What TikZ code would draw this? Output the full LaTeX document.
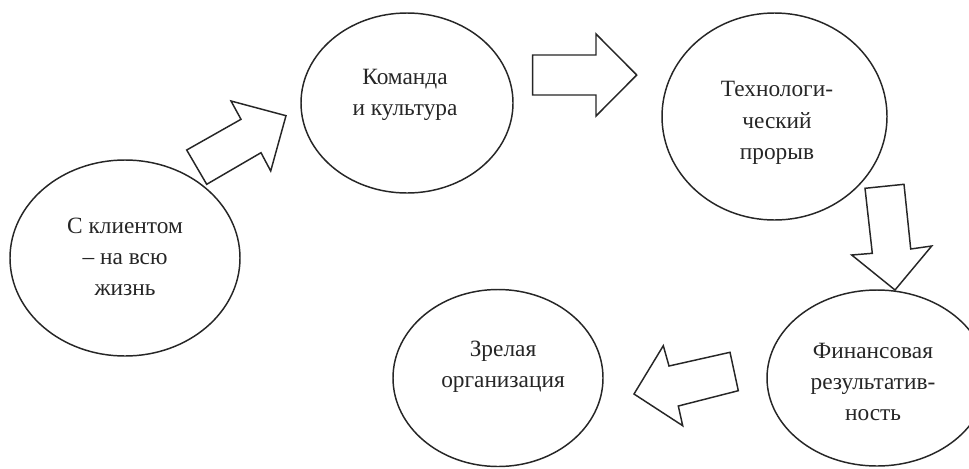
\documentclass[tikz,border=0pt]{standalone}
\usepackage{fontspec}
\setmainfont{Liberation Serif}
\usetikzlibrary{shapes.geometric}
\begin{document}
\begin{tikzpicture}[x=0.75pt,y=-0.75pt,
  oval/.style={draw=black!85,line width=1.1pt,ellipse,inner sep=0pt},
  lbl/.style={align=center,font=\fontsize{17.5}{23.4}\selectfont,text=black!85,inner sep=0pt},
  blockarrow/.style={draw=black!85,line width=1.1pt,line join=miter,fill=white}]
\clip (0,0) rectangle (969,468);
\fill[white] (0,0) rectangle (969,468);
% ellipses
\node[oval,minimum width=172.5pt,minimum height=147pt] (e1) at (125,258) {};
\node[oval,minimum width=159pt,minimum height=135pt] (e2) at (407,103) {};
\node[oval,minimum width=168.75pt,minimum height=155.25pt] (e3) at (774.5,116.5) {};
\node[oval,minimum width=165pt,minimum height=132pt] (e4) at (877,378) {};
\node[oval,minimum width=157.5pt,minimum height=132.75pt] (e5) at (498,378) {};
% labels
\node[lbl] (t1) at (125,257) {С клиентом\\– на всю\\жизнь};
\node[lbl] (t2) at (405,95) {Команда\\и культура};
\node[lbl] (t3) at (777,123) {Технологи-\\ческий\\прорыв};
\node[lbl] (t4) at (873,382) {Финансовая\\результатив-\\ность};
\node[lbl] (t5) at (503,367) {Зрелая\\организация};
% block arrows
\draw[blockarrow] (186.7,150) -- (206.7,184.3) -- (261,152.7) -- (270.7,171) -- (286,115.7) -- (231,101) -- (241,119.3) -- cycle;
\draw[blockarrow] (532.7,55) -- (596,55) -- (596,34) -- (636.7,75) -- (596,116) -- (596,95) -- (532.7,95) -- cycle;
\draw[blockarrow] (865,188.3) -- (904,184.3) -- (910.7,249) -- (931.7,246) -- (895,290) -- (851.7,255) -- (872.3,253.3) -- cycle;
\draw[blockarrow] (634,394) -- (663.3,345.7) -- (669,366) -- (730,352.3) -- (738.3,390.7) -- (678.3,406) -- (682.7,425.7) -- cycle;
\end{tikzpicture}
\end{document}
